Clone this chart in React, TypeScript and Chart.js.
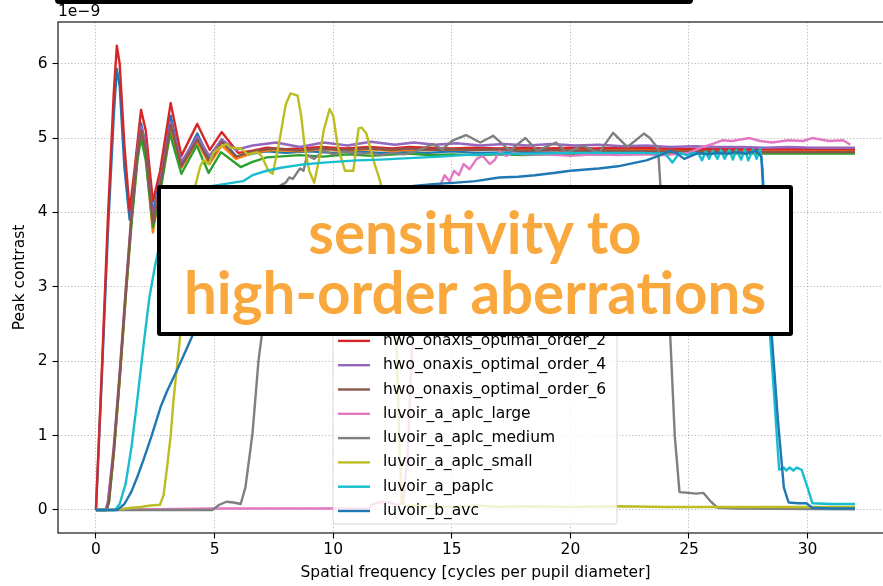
import React, { useEffect, useRef } from "react";
import { Chart, registerables } from "chart.js";

Chart.register(...registerables);

// ---------------- data (contrast values in units of 1e-9) ----------------
const seriesNames = [
  "hwo_offaxis_optimal_order_2",
  "hwo_offaxis_optimal_order_4",
  "hwo_offaxis_optimal_order_6",
  "hwo_onaxis_optimal_order_2",
  "hwo_onaxis_optimal_order_4",
  "hwo_onaxis_optimal_order_6",
  "luvoir_a_aplc_large",
  "luvoir_a_aplc_medium",
  "luvoir_a_aplc_small",
  "luvoir_a_paplc",
  "luvoir_b_avc",
];
const seriesColors = [
  "#1f77b4", "#ff7f0e", "#2ca02c", "#d62728", "#9467bd", "#8c564b",
  "#e377c2", "#7f7f7f", "#bcbd22", "#17becf", "#1f77b4",
];

const xTicks = [0, 5, 10, 15, 20, 25, 30];
const yTicks = [0, 1, 2, 3, 4, 5, 6];
const xLimits = [-1.6, 33.6];
const yLimits = [-0.31, 6.56];
const yOffsetLabel = "1e\u22129";
const xTitle = "Spatial frequency [cycles per pupil diameter]";
const yTitle = "Peak contrast";
const overlayLines = ["sensitivity to", "high-order aberrations"];

type P = [number, number];

const hwoOffaxis2: P[] = [
  [0, 0], [0.25, 1.8], [0.5, 3.7], [0.75, 5.3], [0.88, 5.93], [1.0, 5.7], [1.2, 4.6], [1.42, 3.9],
  [1.6, 4.4], [1.9, 5.2], [2.1, 4.9], [2.4, 4.0], [2.7, 4.45], [3.15, 5.3], [3.6, 4.64], [4.27, 5.06],
  [4.78, 4.72], [5.3, 4.98], [5.95, 4.74], [6.6, 4.79], [7.2, 4.82], [8, 4.8], [9, 4.82], [10, 4.8],
  [11, 4.82], [12, 4.8], [13, 4.81], [14, 4.8], [15, 4.82], [16, 4.8], [18, 4.81], [20, 4.8],
  [22, 4.81], [24, 4.8], [26, 4.81], [28, 4.8], [30, 4.81], [32, 4.8],
];
const hwoOffaxis4: P[] = [
  [0, 0], [0.4, 0], [0.5, 0.08], [0.75, 0.75], [1.0, 1.75], [1.25, 2.85], [1.5, 3.9], [1.75, 4.75],
  [1.9, 5.05], [2.1, 4.75], [2.4, 3.73], [2.7, 4.3], [3.15, 5.12], [3.6, 4.6], [4.27, 4.95], [4.78, 4.65],
  [5.3, 4.9], [5.9, 4.72], [6.6, 4.8], [7.5, 4.84], [8.5, 4.82], [9.5, 4.85], [10.5, 4.83], [11.5, 4.85],
  [12.5, 4.83], [13.2, 4.84], [14, 4.84], [15, 4.85], [16, 4.84], [17, 4.85], [18, 4.84], [19, 4.85],
  [20, 4.84], [21, 4.85], [22, 4.84], [24, 4.84], [26, 4.84], [28, 4.84], [30, 4.84], [32, 4.84],
];
const hwoOffaxis6: P[] = [
  [0, 0], [0.45, 0], [0.55, 0.1], [0.75, 0.75], [1.0, 1.75], [1.25, 2.85], [1.5, 3.85], [1.75, 4.7],
  [1.9, 5.0], [2.1, 4.7], [2.4, 3.8], [2.7, 4.25], [3.12, 5.06], [3.6, 4.52], [4.25, 4.9], [4.75, 4.53],
  [5.27, 4.81], [6.1, 4.61], [6.6, 4.68], [7.2, 4.74], [8.6, 4.77], [9.6, 4.75], [10.6, 4.78], [11.6, 4.76],
  [12.6, 4.78], [13.2, 4.79], [14, 4.77], [15, 4.78], [16, 4.77], [17, 4.78], [18, 4.77], [19, 4.78],
  [20, 4.78], [22, 4.78], [24, 4.79], [26, 4.79], [28, 4.79], [30, 4.79], [32, 4.79],
];
const hwoOnaxis2: P[] = [
  [0, 0], [0.25, 1.9], [0.5, 3.9], [0.75, 5.6], [0.88, 6.24], [1.0, 6.0], [1.2, 4.9], [1.42, 4.02],
  [1.6, 4.5], [1.9, 5.38], [2.1, 5.1], [2.4, 4.15], [2.7, 4.55], [3.15, 5.47], [3.6, 4.76], [4.27, 5.19],
  [4.8, 4.84], [5.3, 5.08], [6.0, 4.8], [6.6, 4.83], [7.2, 4.87], [8.0, 4.85], [8.6, 4.86], [9.5, 4.88],
  [10.5, 4.86], [11.5, 4.88], [12.5, 4.86], [13.2, 4.88], [14, 4.87], [15, 4.86], [16, 4.87], [17, 4.86],
  [18, 4.87], [19, 4.86], [20, 4.87], [21, 4.86], [22, 4.87], [24, 4.86], [26, 4.85], [28, 4.85],
  [30, 4.85], [32, 4.85],
];
const hwoOnaxis4: P[] = [
  [0, 0], [0.4, 0], [0.5, 0.1], [0.75, 0.85], [1.0, 1.85], [1.25, 2.95], [1.5, 4.0], [1.75, 4.85],
  [1.9, 5.15], [2.1, 4.9], [2.4, 3.88], [2.7, 4.4], [3.15, 5.22], [3.6, 4.68], [4.27, 5.02], [4.78, 4.76],
  [5.3, 4.98], [5.9, 4.84], [6.6, 4.9], [7.6, 4.94], [8.6, 4.88], [9.6, 4.94], [10.6, 4.9], [11.6, 4.95],
  [12.6, 4.91], [13.4, 4.94], [14.3, 4.91], [15.2, 4.93], [16.2, 4.9], [17.2, 4.92], [18.2, 4.9],
  [19.2, 4.92], [20.2, 4.9], [21.2, 4.91], [22.2, 4.89], [23.2, 4.9], [24.2, 4.88], [25.2, 4.89],
  [26.2, 4.88], [27.2, 4.88], [28.2, 4.87], [29.2, 4.88], [30.2, 4.87], [32, 4.87],
];
const hwoOnaxis6: P[] = [
  [0, 0], [0.45, 0], [0.55, 0.12], [0.75, 0.8], [1.0, 1.8], [1.25, 2.9], [1.5, 3.95], [1.75, 4.8],
  [1.9, 5.1], [2.1, 4.85], [2.4, 3.85], [2.7, 4.35], [3.15, 5.18], [3.6, 4.62], [4.27, 4.98], [4.78, 4.68],
  [5.3, 4.95], [5.9, 4.75], [6.6, 4.82], [7.5, 4.86], [8.5, 4.83], [9.5, 4.86], [10.5, 4.84], [11.5, 4.86],
  [12.5, 4.84], [13.2, 4.86], [14, 4.84], [15, 4.85], [16, 4.84], [17, 4.85], [18, 4.83], [19, 4.84],
  [20, 4.83], [22, 4.83], [24, 4.82], [26, 4.82], [28, 4.81], [30, 4.81], [32, 4.81],
];
const luvoirAplcLarge: P[] = [
  [0, 0], [5, 0.02], [11.5, 0.02], [11.7, 0.08], [12.0, 0.11], [12.4, 0.1], [12.75, 0.06], [12.95, 0.12],
  [13.15, 0.8], [13.3, 2.0], [13.45, 2.9], [13.7, 3.8], [14.0, 4.15], [14.5, 4.36], [14.7, 4.5],
  [14.9, 4.42], [15.1, 4.56], [15.3, 4.5], [15.5, 4.65], [15.75, 4.58], [16.05, 4.72], [16.3, 4.76],
  [16.6, 4.65], [16.8, 4.7], [17.0, 4.82], [17.3, 4.76], [17.6, 4.8], [18, 4.78], [19, 4.78], [20, 4.76],
  [21, 4.78], [22, 4.77], [23, 4.78], [24, 4.77], [25, 4.8], [25.5, 4.87], [26.0, 4.92], [26.4, 4.97],
  [26.8, 4.96], [27.55, 5.0], [28.0, 4.96], [28.5, 4.94], [29.2, 4.97], [29.8, 4.96], [30.2, 5.0],
  [30.9, 4.96], [31.5, 4.97], [31.8, 4.91],
];
const luvoirAplcMedium: P[] = [
  [0, 0], [4.9, 0], [5.2, 0.07], [5.5, 0.11], [5.8, 0.1], [6.1, 0.08], [6.3, 0.3], [6.6, 1.03],
  [6.85, 2.0], [7.0, 2.37], [7.3, 3.2], [7.6, 4.0], [7.77, 4.36], [8.0, 4.4], [8.15, 4.47], [8.3, 4.45],
  [8.6, 4.59], [8.75, 4.56], [8.9, 4.77], [9.2, 4.72], [9.6, 4.83], [10, 4.78], [10.5, 4.82], [11, 4.78],
  [11.5, 4.8], [12, 4.77], [12.5, 4.8], [13, 4.78], [13.5, 4.82], [14.2, 4.92], [14.6, 4.85], [15.05, 4.97],
  [15.6, 5.04], [16.2, 4.94], [16.75, 5.03], [17.45, 4.83], [18.1, 5.0], [18.6, 4.83], [19.4, 4.94],
  [19.85, 4.8], [20.5, 4.9], [21.2, 4.8], [21.8, 5.07], [22.4, 4.88], [23.1, 5.06], [23.35, 5.0],
  [23.55, 4.92], [23.7, 4.85], [24.0, 3.3], [24.2, 2.4], [24.4, 1.0], [24.6, 0.24], [25.0, 0.23],
  [25.3, 0.22], [25.6, 0.23], [25.9, 0.12], [26.2, 0.03], [27, 0.02], [32, 0.01],
];
const luvoirAplcSmall: P[] = [
  [0, 0], [0.5, 0], [1.0, 0.01], [1.5, 0.03], [1.87, 0.04], [2.3, 0.06], [2.7, 0.07], [2.85, 0.2],
  [3.0, 0.58], [3.15, 1.0], [3.27, 1.48], [3.56, 2.37], [3.8, 3.2], [4.0, 3.9], [4.19, 4.36], [4.4, 4.62],
  [4.53, 4.7], [4.75, 4.65], [4.95, 4.8], [5.24, 4.88], [5.5, 4.92], [5.66, 4.87], [6.1, 4.86],
  [6.4, 4.78], [6.8, 4.81], [7.0, 4.75], [7.27, 4.56], [7.45, 4.52], [7.7, 4.9], [8.0, 5.45], [8.2, 5.6],
  [8.5, 5.57], [8.65, 5.3], [8.8, 4.88], [9.0, 4.55], [9.2, 4.4], [9.4, 4.7], [9.6, 5.1], [9.85, 5.39],
  [10.0, 5.3], [10.2, 4.88], [10.5, 4.56], [10.85, 4.56], [11.07, 5.13], [11.2, 5.14], [11.4, 5.06],
  [11.7, 4.7], [12.0, 4.4], [12.4, 3.5], [12.65, 2.5], [12.8, 0.8], [12.9, 0.1], [13.1, 0.06],
  [14, 0.05], [15, 0.04], [16, 0.06], [17, 0.04], [18, 0.05], [20, 0.04], [22, 0.05], [24, 0.04],
  [26, 0.04], [28, 0.04], [30, 0.04], [32, 0.04],
];
const luvoirAPaplc: P[] = [
  [0, 0], [0.8, 0], [1.0, 0.08], [1.25, 0.35], [1.5, 0.85], [1.75, 1.5], [2.0, 2.2], [2.25, 2.85],
  [2.5, 3.3], [2.75, 3.65], [3.0, 3.9], [3.5, 4.15], [4.0, 4.28], [4.4, 4.34], [5.0, 4.36], [5.4, 4.38],
  [5.8, 4.4], [6.2, 4.42], [6.6, 4.5], [7.2, 4.56], [7.8, 4.6], [8.6, 4.64], [9.6, 4.67], [11.0, 4.7],
  [12.0, 4.71], [13.2, 4.73], [14.5, 4.75], [15.5, 4.77], [17.0, 4.79], [18.5, 4.79], [20.0, 4.8],
  [21.5, 4.8], [23.0, 4.8], [24.0, 4.79], [24.3, 4.67], [24.6, 4.8], [24.9, 4.77], [25.2, 4.8],
  [25.4, 4.79], [25.55, 4.7], [25.7, 4.82], [25.85, 4.72], [26.0, 4.83], [26.2, 4.72], [26.35, 4.84],
  [26.5, 4.72], [26.7, 4.84], [26.85, 4.71], [27.0, 4.84], [27.2, 4.71], [27.35, 4.85], [27.5, 4.7],
  [27.7, 4.85], [27.85, 4.72], [28.0, 4.86], [28.1, 4.6], [28.4, 2.42], [28.8, 0.54], [29.0, 0.57],
  [29.1, 0.53], [29.25, 0.57], [29.4, 0.53], [29.55, 0.57], [29.75, 0.54], [30.0, 0.3], [30.2, 0.09],
  [31, 0.08], [32, 0.08],
];
const luvoirBAvc: P[] = [
  [0, 0], [0.9, 0], [1.2, 0.08], [1.5, 0.25], [1.75, 0.45], [2.0, 0.67], [2.35, 1.0], [2.72, 1.38],
  [3.0, 1.6], [3.42, 1.88], [3.8, 2.15], [4.1, 2.37], [4.6, 2.65], [5.2, 2.95], [6.0, 3.3], [7.0, 3.65],
  [8.0, 3.9], [9.0, 4.05], [10.0, 4.15], [11.0, 4.22], [12.0, 4.28], [12.6, 4.33], [13.5, 4.36],
  [14.2, 4.38], [15.2, 4.4], [16.0, 4.42], [17.0, 4.47], [17.8, 4.48], [18.5, 4.5], [19.3, 4.53],
  [20.0, 4.56], [20.8, 4.58], [21.2, 4.59], [22.0, 4.62], [22.6, 4.66], [23.2, 4.7], [23.8, 4.77],
  [24.2, 4.83], [24.5, 4.79], [24.8, 4.72], [25.1, 4.76], [25.4, 4.8], [25.8, 4.78], [26.2, 4.8],
  [26.6, 4.79], [27.0, 4.81], [27.4, 4.79], [27.85, 4.83], [28.05, 4.75], [28.25, 3.6], [28.5, 2.3],
  [28.75, 1.2], [29.0, 0.3], [29.2, 0.1], [29.6, 0.09], [29.95, 0.09], [30.2, 0.03], [31, 0.02], [32, 0.02],
];

const seriesData: P[][] = [
  hwoOffaxis2, hwoOffaxis4, hwoOffaxis6, hwoOnaxis2, hwoOnaxis4, hwoOnaxis6,
  luvoirAplcLarge, luvoirAplcMedium, luvoirAplcSmall, luvoirAPaplc, luvoirBAvc,
];

// ---------------- styling ----------------
const AXIS_FONT = '"DejaVu Sans", sans-serif';
const FONT_SIZE = 15.5;
const LINE_W = 2.4;

const mplPlugin = {
  id: "mplDecor",
  afterDatasetsDraw(chart: any) {
    const { ctx, chartArea: ca } = chart;
    ctx.save();
    // spines
    ctx.strokeStyle = "#000";
    ctx.lineWidth = 1.1;
    ctx.strokeRect(ca.left, ca.top, ca.right - ca.left, ca.bottom - ca.top);
    // offset text
    ctx.fillStyle = "#000";
    ctx.font = `${FONT_SIZE}px ${AXIS_FONT}`;
    ctx.textAlign = "left";
    ctx.textBaseline = "middle";
    ctx.fillText(yOffsetLabel, ca.left, ca.top - 10);

    // legend (matplotlib style, semi-transparent)
    const n = seriesNames.length;
    const rowH = 24.3;
    const boxLeft = ca.left + 275;
    const boxRight = ca.left + 559;
    const boxBottom = ca.bottom - 9;
    const lastRowY = boxBottom - 13;
    const firstRowY = lastRowY - (n - 1) * rowH;
    const boxTop = firstRowY - 13;
    ctx.beginPath();
    ctx.roundRect(boxLeft, boxTop, boxRight - boxLeft, boxBottom - boxTop, 3);
    ctx.fillStyle = "rgba(255,255,255,0.8)";
    ctx.fill();
    ctx.strokeStyle = "rgba(204,204,204,0.8)";
    ctx.lineWidth = 1;
    ctx.stroke();
    for (let i = 0; i < n; i++) {
      const y = firstRowY + i * rowH;
      ctx.beginPath();
      ctx.moveTo(boxLeft + 5, y);
      ctx.lineTo(boxLeft + 37, y);
      ctx.strokeStyle = seriesColors[i];
      ctx.lineWidth = LINE_W;
      ctx.stroke();
      ctx.fillStyle = "#000";
      ctx.fillText(seriesNames[i], boxLeft + 50, y);
    }
    ctx.restore();
  },
};

export default function App() {
  const ref = useRef<HTMLCanvasElement>(null);

  useEffect(() => {
    const datasets = seriesData.map((pts, i) => ({
      label: seriesNames[i],
      data: pts.map(([x, y]) => ({ x, y })),
      borderColor: seriesColors[i],
      backgroundColor: seriesColors[i],
      borderWidth: LINE_W,
      pointRadius: 0,
      tension: 0,
      fill: false,
      borderJoinStyle: "round" as const,
      order: seriesNames.length - i,
    }));

    const tickFont = { family: AXIS_FONT, size: FONT_SIZE };
    const chart = new Chart(ref.current as HTMLCanvasElement, {
      type: "line",
      data: { datasets },
      plugins: [mplPlugin],
      options: {
        animation: false,
        responsive: false,
        devicePixelRatio: 1,
        events: [],
        layout: { padding: { top: 22, right: 7, left: 0, bottom: 0 } },
        plugins: { legend: { display: false }, tooltip: { enabled: false } },
        scales: {
          x: {
            type: "linear",
            min: xLimits[0],
            max: xLimits[1],
            afterBuildTicks: (s: any) => {
              s.ticks = xTicks.map((v) => ({ value: v }));
            },
            afterFit: (s: any) => {
              s.height = 53;
            },
            ticks: { font: tickFont, color: "#000", padding: 2.2, maxRotation: 0, autoSkip: false },
            grid: {
              color: "#b0b0b0",
              lineWidth: 0.9,
              tickLength: 5.5,
              tickColor: "#000",
              tickWidth: 1.1,
            },
            border: { display: false, dash: [1.2, 2.1] },
            title: {
              display: true,
              text: xTitle,
              font: tickFont,
              color: "#000",
              padding: { top: 0, bottom: 3.6 },
            },
          },
          y: {
            type: "linear",
            min: yLimits[0],
            max: yLimits[1],
            afterBuildTicks: (s: any) => {
              s.ticks = yTicks.map((v) => ({ value: v }));
            },
            afterFit: (s: any) => {
              s.width = 58;
            },
            ticks: { font: tickFont, color: "#000", padding: 5 },
            grid: {
              color: "#b0b0b0",
              lineWidth: 0.9,
              tickLength: 5.5,
              tickColor: "#000",
              tickWidth: 1.1,
            },
            border: { display: false, dash: [1.2, 2.1] },
            title: {
              display: true,
              text: yTitle,
              font: tickFont,
              color: "#000",
              padding: { top: 10.6, bottom: 0 },
            },
          },
        },
      },
    } as any);
    return () => chart.destroy();
  }, []);

  return (
    <div
      style={{
        position: "fixed",
        left: 0,
        top: 0,
        width: 883,
        height: 586,
        overflow: "hidden",
        background: "#fff",
      }}
    >
      <canvas
        ref={ref}
        width={900}
        height={586}
        style={{ position: "absolute", left: 0, top: 0, width: 900, height: 586 }}
      />
      <div
        style={{
          position: "absolute",
          left: 55,
          top: -40,
          width: 638,
          height: 43.5,
          boxSizing: "border-box",
          border: "4px solid #000",
          borderRadius: 4,
          background: "#fff",
        }}
      />
      <div
        style={{
          position: "absolute",
          left: 157,
          top: 185,
          width: 636,
          height: 151,
          boxSizing: "border-box",
          border: "4px solid #000",
          borderRadius: 3,
          background: "#fff",
          display: "flex",
          flexDirection: "column",
          alignItems: "center",
          justifyContent: "center",
          fontFamily: "Lato, sans-serif",
          fontWeight: 700,
          fontSize: 58.3,
          lineHeight: "60px",
          color: "#F9A83E",
          textAlign: "center",
          whiteSpace: "nowrap",
        }}
      >
        {overlayLines.map((t) => (
          <div key={t}>{t}</div>
        ))}
      </div>
    </div>
  );
}
